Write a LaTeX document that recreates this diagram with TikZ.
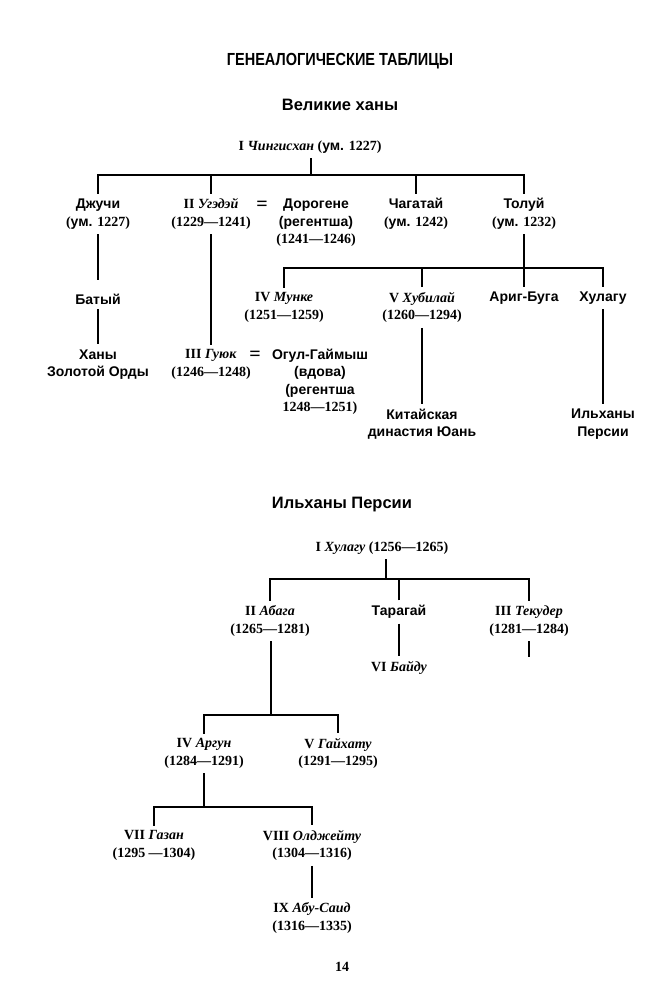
\documentclass[tikz,border=0pt]{standalone}
\usepackage{fontspec}
\setmainfont{Liberation Serif}
\newfontfamily\rusans{Liberation Sans}
\newcommand{\ru}[1]{{\rusans\bfseries #1}}
\newcommand{\nm}[1]{\textbf{\textit{#1}}}

\begin{document}
\begin{tikzpicture}[x=1pt, y=-1pt,
		person/.style={align=center, inner sep=0pt, outer sep=5pt, font=\bfseries\fontsize{14}{17.5}\selectfont},
		marriage/.style={inner sep=0pt, font=\bfseries\fontsize{20}{20}\selectfont},
		heading/.style={font=\rusans\bfseries\fontsize{16.5}{20}\selectfont},
		branch/.style={line width=1.7pt}]
		\path[fill=white] (0,0) rectangle (648,1000);
		\useasboundingbox (0,0) rectangle (648,1000);
		
		\node[heading] (maintitle) at (340,61) {\fontsize{17.5}{20}\selectfont\scalebox{0.83}[1]{ГЕНЕАЛОГИЧЕСКИЕ ТАБЛИЦЫ}};
		\node[heading] (khans) at (340,105) {Великие ханы};
		
		\node[person] (chingis) at (310,147) {I \nm{Чингисхан} (\ru{ум.} 1227)};
		\node[person] (dzhuchi) at (98,214) {\ru{Джучи}\\(\ru{ум.} 1227)};
		\node[person] (ugedei) at (211,214) {II \nm{Угэдэй}\\(1229—1241)};
		\node[marriage] (wed1) at (262,206) {=};
		\node[person] (dorogene) at (316,223) {\ru{Дорогене}\\\ru{(регентша)}\\(1241—1246)};
		\node[person] (chagatai) at (416,214) {\ru{Чагатай}\\(\ru{ум.} 1242)};
		\node[person] (tolui) at (524,214) {\ru{Толуй}\\(\ru{ум.} 1232)};
		\node[person] (batu) at (98,299) {\ru{Батый}};
		\node[person] (orda) at (98,364.5) {\ru{Ханы}\\\ru{Золотой Орды}};
		\node[person] (guyuk) at (211,364.5) {III \nm{Гуюк}\\(1246—1248)};
		\node[marriage] (wed2) at (255,356) {=};
		\node[person] (ogul) at (320,382) {\ru{Огул-Гаймыш}\\\ru{(вдова)}\\\ru{(регентша}\\1248—1251)};
		\node[person] (munke) at (284,307.5) {IV \nm{Мунке}\\(1251—1259)};
		\node[person] (khubilai) at (422,307.5) {V \nm{Хубилай}\\(1260—1294)};
		\node[person] (arig) at (524,298) {\ru{Ариг-Буга}};
		\node[person] (hulagu) at (603,298) {\ru{Хулагу}};
		\node[person] (yuan) at (422,424) {\ru{Китайская}\\\ru{династия Юань}};
		\node[person] (ilkhany) at (603,424) {\ru{Ильханы}\\\ru{Персии}};
		
		\coordinate (j1) at (311,175);
		\coordinate (j2) at (524,268);
		\draw[branch] (j1 |- chingis.south) -- (j1);
		\draw[branch] (dzhuchi.north) |- (j1) -| (tolui.north);
		\draw[branch] (ugedei.north) -- (ugedei.north |- j1);
		\draw[branch] (chagatai.north) -- (chagatai.north |- j1);
		\draw[branch, shorten >=9pt] (dzhuchi) -- (batu);
		\draw[branch] (batu) -- (orda);
		\draw[branch] (ugedei) -- (guyuk);
		\draw[branch] (tolui) -- (arig);
		\draw[branch] (munke.north) |- (j2) -| (hulagu.north);
		\draw[branch] (khubilai.north) -- (khubilai.north |- j2);
		\draw[branch] (khubilai) -- (yuan);
		\draw[branch] (hulagu) -- (ilkhany);
		
		\node[heading] (ilkhanate) at (342,505) {Ильханы Персии};
		
		\node[person] (hulaguI) at (382,548) {I \nm{Хулагу} (1256—1265)};
		\node[person] (abaga) at (270,621) {II \nm{Абага}\\(1265—1281)};
		\node[person] (taragai) at (399,612) {\ru{Тарагай}};
		\node[person] (tekuder) at (529,621) {III \nm{Текудер}\\(1281—1284)};
		\node[person] (baidu) at (399,668) {VI \nm{Байду}};
		\node[person] (argun) at (204,753.5) {IV \nm{Аргун}\\(1284—1291)};
		\node[person] (gaikhatu) at (338,753.5) {V \nm{Гайхату}\\(1291—1295)};
		\node[person] (gazan) at (154,845.5) {VII \nm{Газан}\\(1295 —1304)};
		\node[person] (oljeitu) at (312,845.5) {VIII \nm{Олджейту}\\(1304—1316)};
		\node[person] (abusaid) at (312,918) {IX \nm{Абу-Саид}\\(1316—1335)};
		
		\coordinate (j3) at (386,579);
		\coordinate (j4) at (271,715);
		\coordinate (j5) at (204,807);
		\coordinate (tekend) at (529,657);
		\draw[branch] (j3 |- hulaguI.south) -- (j3);
		\draw[branch] (abaga.north) |- (j3) -| (tekuder.north);
		\draw[branch] (taragai.north) -- (taragai.north |- j3);
		\draw[branch] (taragai) -- (baidu);
		\draw[branch] (tekuder.south) -- (tekend);
		\draw[branch] (j4 |- abaga.south) -- (j4);
		\draw[branch] (argun.north) |- (j4) -| (gaikhatu.north);
		\draw[branch] (argun.south) -- (j5);
		\draw[branch] (gazan.north) |- (j5) -| (oljeitu.north);
		\draw[branch] (oljeitu) -- (abusaid);
		
		\node[font=\bfseries\fontsize{14}{17}\selectfont] (page) at (342,967) {14};
	\end{tikzpicture}
\end{document}
